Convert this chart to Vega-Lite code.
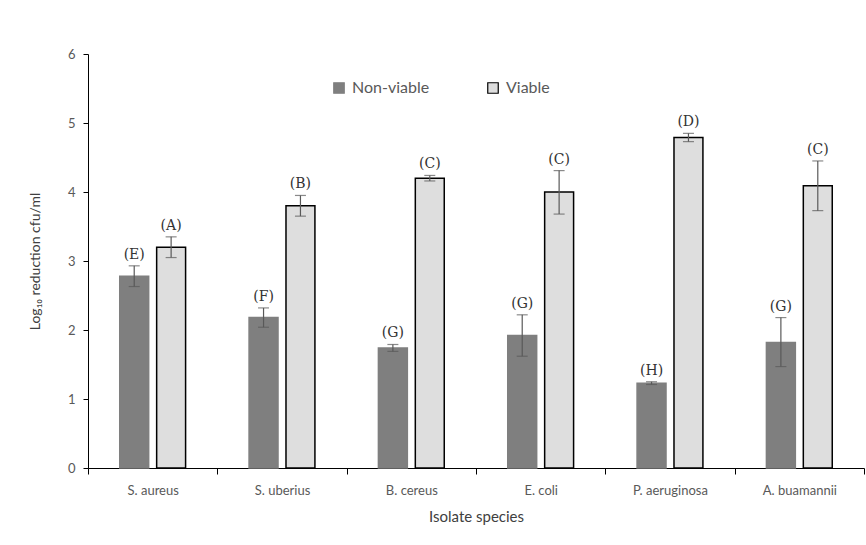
{
  "$schema": "https://vega.github.io/schema/vega-lite/v6.json",
  "width": 776,
  "height": 414,
  "autosize": {"type": "none"},
  "padding": {"left": 88, "top": 54, "right": 2, "bottom": 77},
  "background": "white",
  "config": {
    "view": {"stroke": null},
    "font": "Lato"
  },
  "data": {
    "values": [
      {"species": "S. aureus", "type": "Non-viable", "value": 2.78, "lo": 2.63, "hi": 2.93, "label": "(E)"},
      {"species": "S. aureus", "type": "Viable", "value": 3.2, "lo": 3.05, "hi": 3.35, "label": "(A)"},
      {"species": "S. uberius", "type": "Non-viable", "value": 2.18, "lo": 2.04, "hi": 2.32, "label": "(F)"},
      {"species": "S. uberius", "type": "Viable", "value": 3.8, "lo": 3.65, "hi": 3.95, "label": "(B)"},
      {"species": "B. cereus", "type": "Non-viable", "value": 1.74, "lo": 1.69, "hi": 1.79, "label": "(G)"},
      {"species": "B. cereus", "type": "Viable", "value": 4.2, "lo": 4.16, "hi": 4.24, "label": "(C)"},
      {"species": "E. coli", "type": "Non-viable", "value": 1.92, "lo": 1.62, "hi": 2.22, "label": "(G)"},
      {"species": "E. coli", "type": "Viable", "value": 4.0, "lo": 3.68, "hi": 4.31, "label": "(C)"},
      {"species": "P. aeruginosa", "type": "Non-viable", "value": 1.23, "lo": 1.21, "hi": 1.25, "label": "(H)"},
      {"species": "P. aeruginosa", "type": "Viable", "value": 4.79, "lo": 4.73, "hi": 4.85, "label": "(D)"},
      {"species": "A. buamannii", "type": "Non-viable", "value": 1.82, "lo": 1.47, "hi": 2.18, "label": "(G)"},
      {"species": "A. buamannii", "type": "Viable", "value": 4.09, "lo": 3.73, "hi": 4.45, "label": "(C)"}
    ]
  },
  "encoding": {
    "x": {
      "field": "species",
      "type": "nominal",
      "sort": null,
      "scale": {"paddingInner": 0, "paddingOuter": 0},
      "axis": {
        "title": "Isolate species",
        "titleFont": "Lato",
        "titleFontSize": 15,
        "titleFontWeight": "normal",
        "titleColor": "#404040",
        "titlePadding": 12,
        "labelAngle": 0,
        "labelFontSize": 13,
        "labelColor": "#595959",
        "labelPadding": 10,
        "domainColor": "#000000",
        "domainWidth": 1,
        "tickColor": "#000000",
        "tickSize": 6,
        "tickBand": "extent",
        "grid": false
      }
    },
    "xOffset": {
      "field": "type",
      "type": "nominal",
      "scale": {"paddingInner": 0.216, "paddingOuter": 0.86}
    }
  },
  "layer": [
    {
      "mark": {"type": "bar", "strokeWidth": 1.5},
      "encoding": {
        "y": {
          "field": "value",
          "type": "quantitative",
          "scale": {"domain": [0, 6]},
          "axis": {
            "title": "Log₁₀ reduction cfu/ml",
            "titleFont": "Lato",
            "titleFontSize": 14,
            "titleFontWeight": "normal",
            "titleColor": "#404040",
            "titlePadding": 25,
            "values": [0, 1, 2, 3, 4, 5, 6],
            "format": "d",
            "labelOverlap": false,
            "labelFontSize": 13,
            "labelColor": "#595959",
            "labelPadding": 8,
            "domainColor": "#000000",
            "tickColor": "#000000",
            "tickSize": 5,
            "grid": false
          }
        },
        "fill": {
          "field": "type",
          "type": "nominal",
          "scale": {"domain": ["Non-viable", "Viable"], "range": ["#7f7f7f", "#dedede"]},
          "legend": {
            "title": null,
            "orient": "none",
            "direction": "horizontal",
            "legendX": 243,
            "legendY": 26,
            "symbolType": "square",
            "symbolSize": 110,
            "symbolStrokeWidth": 1.2,
            "labelFontSize": 16,
            "labelColor": "#595959",
            "labelFont": "Lato",
            "columnPadding": 55,
            "labelOffset": 5
          }
        },
        "stroke": {
          "field": "type",
          "type": "nominal",
          "scale": {"domain": ["Non-viable", "Viable"], "range": ["#7f7f7f", "#000000"]},
          "legend": {
            "title": null,
            "orient": "none",
            "direction": "horizontal",
            "legendX": 243,
            "legendY": 26,
            "symbolType": "square",
            "symbolSize": 110,
            "labelFontSize": 16,
            "labelColor": "#595959",
            "labelFont": "Lato",
            "columnPadding": 55,
            "labelOffset": 5
          }
        }
      }
    },
    {
      "mark": {"type": "rule", "color": "#595959", "strokeWidth": 1.2},
      "encoding": {
        "y": {"field": "lo", "type": "quantitative"},
        "y2": {"field": "hi"}
      }
    },
    {
      "mark": {"type": "tick", "color": "#595959", "thickness": 1.2, "size": 11},
      "encoding": {
        "y": {"field": "lo", "type": "quantitative"}
      }
    },
    {
      "mark": {"type": "tick", "color": "#595959", "thickness": 1.2, "size": 11},
      "encoding": {
        "y": {"field": "hi", "type": "quantitative"}
      }
    },
    {
      "mark": {"type": "text", "baseline": "bottom", "dy": -4, "font": "DejaVu Serif", "fontSize": 14, "fill": "#333333"},
      "encoding": {
        "y": {"field": "hi", "type": "quantitative"},
        "text": {"field": "label"}
      }
    }
  ]
}
